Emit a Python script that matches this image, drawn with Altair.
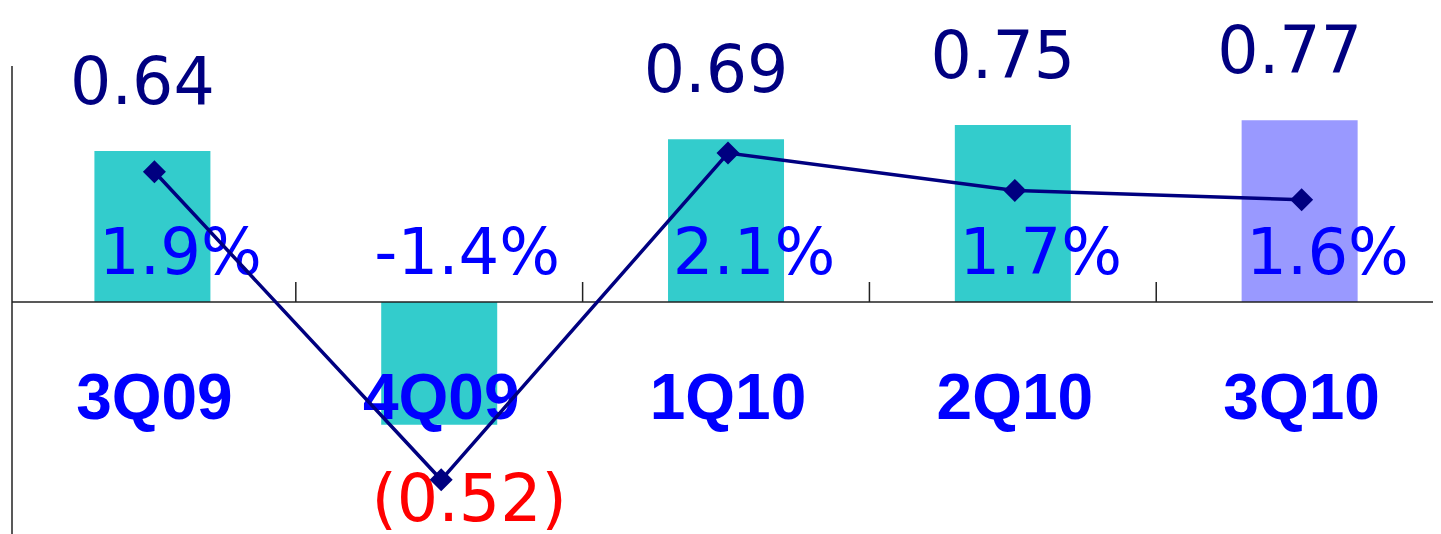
import altair as alt
import pandas as pd

# ---- data ----
quarters = ["3Q09", "4Q09", "1Q10", "2Q10", "3Q10"]
eps = [0.64, -0.52, 0.69, 0.75, 0.77]          # bar values (EPS)
roa = [1.9, -1.4, 2.1, 1.7, 1.6]               # line values (%)

df = pd.DataFrame({
    "quarter": quarters,
    "idx": list(range(len(quarters))),
    "eps": eps,
    "roa": roa,
})
bounds = pd.DataFrame({"b": [i + 0.5 for i in range(len(quarters) - 1)]})
zero_df = pd.DataFrame({"z": [0.0], "top": [1.0]})

W, H = 1425, 516
NAVY, BLUE, RED = "#000080", "#0000FF", "#FF0000"
TEAL, LAV = "#33CCCC", "#9999FF"

xscale = alt.Scale(domain=[-0.5035, 4.465], nice=False, zero=False, padding=0)
ybar = alt.Scale(domain=[-0.9407, 1.2458], nice=False, zero=False, padding=0)
yline = alt.Scale(domain=[-1.8736, 3.654], nice=False, zero=False, padding=0)

X = alt.X("idx:Q", scale=xscale, axis=None)
YB = alt.Y("eps:Q", scale=ybar, axis=None)
YL = alt.Y("roa:Q", scale=yline, axis=None)

base = alt.Chart(df).transform_calculate(
    lab="datum.eps < 0 ? '(' + format(-datum.eps, '.2f') + ')' : format(datum.eps, '.2f')",
    pct="(datum.roa < 0 ? '-' : '') + format(abs(datum.roa), '.1f') + '%'",
)

bars = base.mark_bar(size=116).encode(
    x=X, y=YB, y2=alt.datum(0),
    color=alt.condition(alt.datum.quarter == "3Q10", alt.value(LAV), alt.value(TEAL)),
)

zline = alt.Chart(zero_df).mark_rule(color="#222222", strokeWidth=1.5).encode(
    y=alt.Y("z:Q", scale=ybar, axis=None), x=alt.value(4), x2=alt.value(W)
)
yaxis = alt.Chart(zero_df).mark_rule(color="#222222", strokeWidth=1.5).encode(
    y=alt.Y("top:Q", scale=ybar, axis=None), y2=alt.value(H + 10), x=alt.value(4)
)
ticks = alt.Chart(bounds).mark_tick(
    orient="vertical", size=20, thickness=1.5, yOffset=-10, color="#222222", opacity=1
).encode(
    x=alt.X("b:Q", scale=xscale, axis=None),
    y=alt.Y("z:Q", scale=ybar, axis=None),
).transform_calculate(z="0")

top_pos = base.transform_filter(alt.datum.eps >= 0).mark_text(
    font="DejaVu Sans", fontSize=65, color=NAVY, align="center",
    baseline="alphabetic", dy=-47, dx=-10,
).encode(x=X, y=YB, text="lab:N")

top_neg = base.transform_filter(alt.datum.eps < 0).mark_text(
    font="DejaVu Sans", fontSize=65, color=RED, align="center",
    baseline="alphabetic", dy=96, dx=30,
).encode(x=X, y=YB, text="lab:N")

pct = base.mark_text(
    font="DejaVu Sans", fontSize=64, color=BLUE, align="center",
    baseline="alphabetic", dx=28,
).encode(x=X, y=alt.value(266), text="pct:N")

qlab = base.mark_text(
    font="Liberation Sans", fontSize=64, fontWeight="bold", color=BLUE,
    align="center", baseline="alphabetic", dx=2,
).encode(x=X, y=alt.value(411), text="quarter:N")

line = base.mark_line(color=NAVY, strokeWidth=3.5, xOffset=2).encode(x=X, y=YL)
pts = base.mark_point(
    shape="diamond", filled=True, size=529, color=NAVY, opacity=1, xOffset=2
).encode(x=X, y=YL)

chart = alt.layer(
    bars, zline, yaxis, ticks, top_pos, top_neg, pct, qlab, line, pts
).resolve_scale(y="independent").properties(
    width=W, height=H,
    padding={"left": 0, "top": 0, "right": 0, "bottom": 10},
    autosize=alt.AutoSizeParams(type="none"),
    background="white",
).configure_view(stroke=None)

chart.save("out.html", embed_options={"renderer": "svg", "actions": False})
